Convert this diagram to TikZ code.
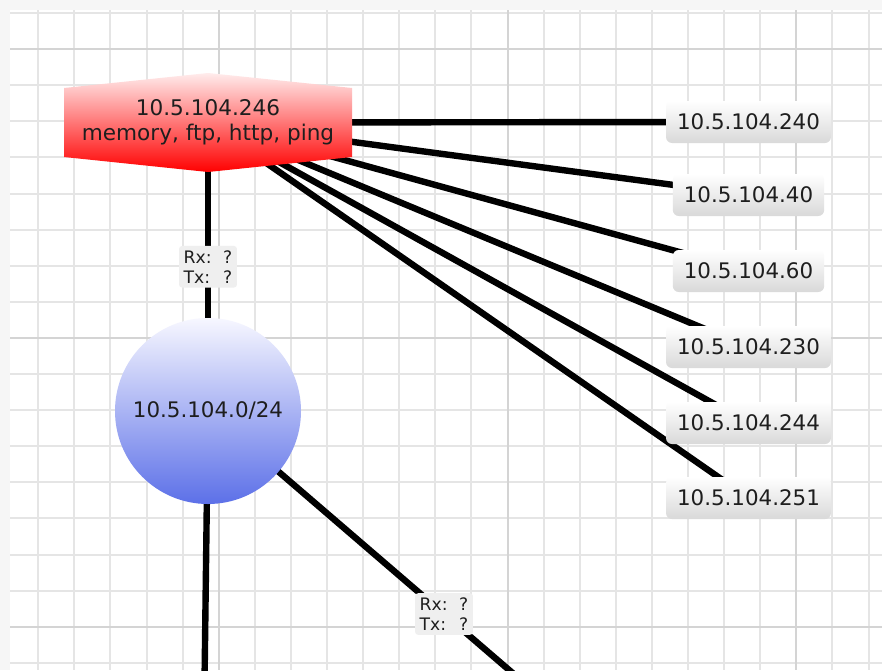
\documentclass[tikz,border=0pt]{standalone}
\usepackage{fontspec}
\setmainfont{DejaVu Sans}
\usetikzlibrary{positioning}

\definecolor{hosttop}{RGB}{255,236,236}
\definecolor{hostbottom}{RGB}{255,0,0}
\definecolor{nettop}{RGB}{247,247,255}
\definecolor{netbottom}{RGB}{92,112,232}
\definecolor{textgray}{RGB}{30,30,30}
\definecolor{labelgray}{RGB}{239,239,239}
\definecolor{stripgray}{RGB}{246,246,246}

\pgfdeclarelayer{grid}
\pgfdeclarelayer{edges}
\pgfdeclarelayer{shapes}
\pgfsetlayers{grid,edges,shapes,main}

\tikzset{
    hostnode/.style={align=center, text=textgray, inner sep=0pt,
        font=\fontsize{10.8}{12.5}\selectfont},
    peerbox/.style={rounded corners=3pt, top color=white, bottom color=gray!30,
        text=textgray, minimum height=21pt, inner xsep=5.5pt,
        font=\fontsize{10.7}{13}\selectfont},
    netcircle/.style={circle, minimum size=93pt, inner sep=0pt,
        top color=nettop, bottom color=netbottom, text=textgray,
        font=\fontsize{10.7}{13}\selectfont},
    ratelabel/.style={fill=labelgray, rounded corners=1.5pt, align=left,
        inner xsep=2.3pt, inner ysep=2.2pt, text=textgray,
        font=\fontsize{8.6}{10}\selectfont},
    link/.style={line width=3.2pt, black},
    minorline/.style={line width=1pt, gray!20},
    majorline/.style={line width=1pt, gray!34},
}

\newcommand{\rxtx}{\makebox[2.3em][l]{Rx:}?\\\makebox[2.3em][l]{Tx:}?}

\begin{document}
\begin{tikzpicture}[x=0.5pt, y=-0.5pt]
    \useasboundingbox (0,0) rectangle (882,670);
    \clip (0,0) rectangle (882,670);

    \begin{pgfonlayer}{grid}
        \fill[stripgray] (0,0) rectangle (882,670);
        \fill[white] (10,10) rectangle (882,670);
        \foreach \k in {1,...,24} % vertical lines
        \draw[minorline] (2.1+36.1*\k,10) -- (2.1+36.1*\k,670);
        \foreach \k in {0,...,18} % horizontal lines
        \draw[minorline] (10,13+36.1*\k) -- (882,13+36.1*\k);
        \foreach \k in {6,14,22}
        \draw[majorline] (2.1+36.1*\k,10) -- (2.1+36.1*\k,670);
        \foreach \k in {1,9,17}
        \draw[majorline] (10,13+36.1*\k) -- (882,13+36.1*\k);
    \end{pgfonlayer}

    % host and its services
    \node[hostnode] (host) at (208,122.5) {10.5.104.246\\memory, ftp, http, ping};
    \begin{pgfonlayer}{shapes}
        \shade[shift={(host.center)}, top color=hosttop, bottom color=hostbottom]
            (-144,-34.5) -- (0,-49.5) -- (144,-34.5) -- (144,34.5)
            -- (0,49.5) -- (-144,34.5) -- cycle;
    \end{pgfonlayer}

    % subnet
    \node[netcircle] (net) at (208,411) {10.5.104.0/24};
    \coordinate (down) at (203,800);
    \coordinate (away) at (680,817);

    % peers
    \foreach \name/\ip/\y in {p240/10.5.104.240/122, p40/10.5.104.40/195,
        p60/10.5.104.60/271, p230/10.5.104.230/347,
        p244/10.5.104.244/423, p251/10.5.104.251/498}
    \node[peerbox] (\name) at (748.5,\y) {\ip};

    \begin{pgfonlayer}{edges}
        \foreach \name in {p240,p40,p60,p230,p244,p251}
        \draw[link] (host.center) -- (\name.center);
        \draw[link] (host.center) -- node[ratelabel] {\rxtx} (net.center);
        \draw[link] (net.center) -- (down);
        \draw[link] (net.center) -- node[ratelabel] {\rxtx} (away);
    \end{pgfonlayer}
\end{tikzpicture}
\end{document}
